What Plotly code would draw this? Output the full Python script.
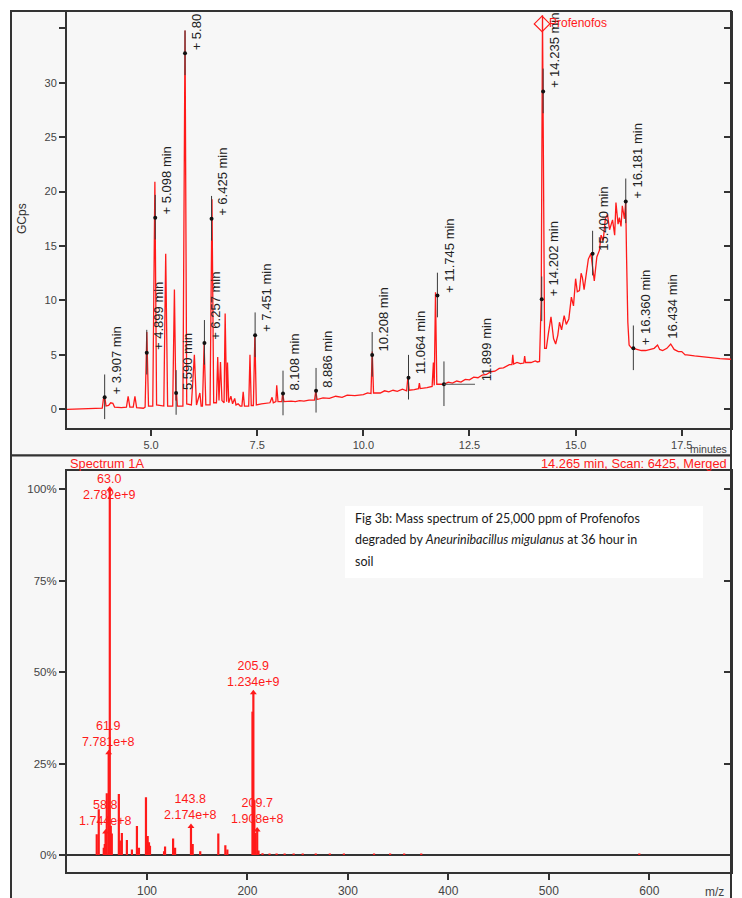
import plotly.graph_objects as go

W, H = 742, 898

# ---------------- GC chromatogram (total ion current) ----------------
rt_min = [3.02, 3.5, 3.85, 3.88, 3.91, 3.94, 4.0, 4.05, 4.1, 4.14, 4.3, 4.42, 4.46, 4.5,
          4.58, 4.62, 4.66, 4.82, 4.86, 4.90, 4.94, 5.04, 5.09, 5.13, 5.30, 5.345, 5.39,
          5.51, 5.55, 5.585, 5.60, 5.62, 5.75, 5.80, 5.84, 5.95, 6.02, 6.07, 6.12, 6.15,
          6.18, 6.21, 6.25, 6.29, 6.39, 6.435, 6.475, 6.54, 6.57, 6.60, 6.635, 6.67, 6.72,
          6.745, 6.78, 6.80, 6.83, 6.88, 6.92, 6.97, 7.0, 7.05, 7.1, 7.14, 7.17, 7.2, 7.3,
          7.33, 7.36, 7.41, 7.445, 7.48, 7.6, 7.8, 7.85, 7.88, 7.94, 7.96, 7.99, 8.08, 8.10,
          8.13, 8.3, 8.4, 8.5, 8.6, 8.72, 8.85, 8.88, 8.91, 9.05, 9.2, 9.35, 9.5, 9.62, 9.8,
          10.0, 10.1, 10.18, 10.21, 10.24, 10.4, 10.5, 10.6, 10.7, 10.8, 10.92, 11.02, 11.05,
          11.08, 11.2, 11.3, 11.32, 11.34, 11.5, 11.62, 11.65, 11.67, 11.70, 11.73, 11.9,
          12.0, 12.1, 12.2, 12.3, 12.4, 12.5, 12.6, 12.7, 12.8, 12.9, 13.0, 13.1, 13.2,
          13.3, 13.44, 13.5, 13.52, 13.54, 13.62, 13.7, 13.78, 13.8, 13.82, 13.95, 14.05,
          14.1, 14.15, 14.19, 14.22, 14.27, 14.31, 14.36, 14.42, 14.48, 14.53, 14.58,
          14.62, 14.67, 14.73, 14.78, 14.84, 14.9, 14.95, 15.0, 15.04, 15.09, 15.13, 15.16,
          15.2, 15.26, 15.3, 15.36, 15.4, 15.44, 15.5, 15.56, 15.6, 15.65, 15.7, 15.75,
          15.8, 15.87, 15.92, 15.95, 16.0, 16.03, 16.07, 16.1, 16.15, 16.18, 16.2, 16.23,
          16.26, 16.3, 16.36, 16.45, 16.55, 16.65, 16.75, 16.85, 16.93, 16.98, 17.05,
          17.15, 17.24, 17.32, 17.42, 17.5, 17.58, 17.62, 17.8, 18.0, 18.2, 18.4, 18.66]
gcps = [0.0, 0.05, 0.1, 1.0, 1.1, 0.3, 0.35, 0.6, 0.55, 0.2, 0.15, 0.2, 1.2, 0.2,
        0.2, 1.2, 0.15, 0.1, 0.2, 7.1, 0.3, 0.3, 20.9, 0.4, 0.3, 14.3, 0.3,
        0.3, 11.0, 0.8, 1.5, 0.3, 0.3, 34.8, 0.5, 0.4, 5.0, 0.4, 1.0, 1.5,
        0.3, 0.3, 6.0, 0.4, 0.4, 19.3, 0.6, 0.6, 4.8, 0.8, 4.35, 0.8, 0.6,
        8.8, 0.7, 4.3, 0.6, 1.2, 0.5, 1.0, 0.4, 0.5, 0.3, 0.3, 1.6, 0.3, 0.3,
        5.0, 0.35, 0.35, 6.8, 0.4, 0.5, 0.6, 1.1, 0.6, 0.7, 2.2, 0.7, 0.7, 1.45,
        0.7, 0.75, 0.7, 0.8, 0.75, 0.85, 0.85, 1.7, 0.9, 1.05, 1.0, 1.2, 1.1, 1.3, 1.25,
        1.35, 1.5, 1.45, 5.3, 1.5, 1.5, 1.7, 1.6, 1.75, 1.65, 1.85, 1.7, 3.0,
        1.75, 1.8, 1.9, 2.4, 1.9, 2.0, 2.1, 4.3, 2.2, 10.75, 2.3, 2.3,
        2.5, 2.4, 2.6, 2.5, 2.75, 2.7, 2.95, 2.9, 3.15, 3.2, 3.45, 3.5, 3.75,
        3.8, 4.1, 4.1, 5.0, 4.15, 4.3, 4.2, 4.25, 4.9, 4.3, 4.3, 4.45,
        4.35, 4.4, 10.1, 36.2, 5.6, 5.6, 7.0, 8.5, 6.5, 6.0, 6.8,
        8.0, 7.3, 8.6, 7.8, 8.3, 10.3, 9.5, 12.0, 10.8, 10.9, 12.5, 12.1,
        11.0, 12.7, 13.8, 14.3, 13.0, 11.8, 14.0, 14.6, 16.0, 15.5, 17.5, 17.9,
        16.5, 17.4, 16.0, 19.0, 17.0, 17.6, 16.8, 18.7, 17.5, 19.1, 14.0, 8.0,
        5.9, 5.7, 5.6, 5.5, 5.4, 5.4, 5.5, 5.6, 5.9, 5.5, 5.4,
        5.6, 6.0, 5.5, 5.3, 5.3, 5.0, 5.0, 4.9, 4.8, 4.7, 4.65, 4.6]

# integrated peak markers (retention time, marker height)
mark_rt = [3.907, 4.899, 5.098, 5.590, 5.80, 6.257, 6.425, 7.451, 8.108, 8.886,
           10.208, 11.064, 11.745, 11.899, 14.202, 14.235, 15.400, 16.181, 16.360]
mark_val = [1.1, 5.2, 17.6, 1.5, 32.7, 6.1, 17.5, 6.8, 1.45, 1.7,
            5.0, 2.9, 10.45, 2.3, 10.1, 29.2, 14.3, 19.1, 5.6]

# peak labels (anchor retention time, anchor height, text)
lab_rt = [3.907, 4.899, 5.098, 5.590, 5.80, 6.257, 6.425, 7.451, 8.108, 8.886,
          10.208, 11.064, 11.745, 12.63, 14.202, 14.235, 15.400, 16.181, 16.360, 17.02]
lab_val = [1.1, 5.2, 17.6, 1.5, 32.7, 6.1, 17.5, 6.8, 1.45, 1.7,
           5.0, 2.9, 10.45, 2.3, 10.1, 29.2, 14.3, 19.1, 5.6, 6.2]
lab_text = ["+ 3.907 min", "+ 4.899 min", "+ 5.098 min", "5.590 min", "+ 5.80",
            "+ 6.257 min", "+ 6.425 min", "+ 7.451 min", "8.108 min", "8.886 min",
            "10.208 min", "11.064 min", "+ 11.745 min", "11.899 min", "+ 14.202 min",
            "+ 14.235 min", "15.400 min", "+ 16.181 min", "+ 16.360 min", "16.434 min"]

rt_ticks = [5.0, 7.5, 10.0, 12.5, 15.0, 17.5]
rt_ticktext = ["5.0", "7.5", "10.0", "12.5", "15.0", "17.5"]
gc_ticks = [0, 5, 10, 15, 20, 25, 30, 35]
gc_ticktext = ["0", "5", "10", "15", "20", "25", "30", ""]

# ---------------- mass spectrum at 14.265 min ----------------
base_counts = 2.782e9
mz = [50.0, 52.0, 57.0, 58.0, 60.0, 64.0, 65.0, 72.0, 73.0, 75.0, 80.0, 85.0,
      90.0, 92.0, 99.0, 100.7, 102.0, 103.0, 117.0, 118.0, 126.0, 128.0, 145.5,
      153.0, 171.0, 178.0, 180.0, 205.0, 206.9, 207.9, 211.0, 215.0, 222.0, 229.0,
      237.0, 246.0, 255.0, 268.0, 282.0, 296.0, 326.0, 342.0, 356.0, 373.0, 590.0]
rel_abund = [5.7, 12.5, 2.0, 3.0, 16.9, 8.0, 5.9, 16.7, 4.0, 6.0, 4.1, 1.5,
             7.9, 2.0, 15.8, 5.2, 3.5, 2.5, 1.0, 2.3, 4.5, 2.0, 3.0,
             1.0, 5.9, 2.7, 1.5, 39.2, 15.0, 6.0, 1.2, 0.5, 0.4, 0.4,
             0.4, 0.4, 0.4, 0.4, 0.4, 0.4, 0.4, 0.4, 0.4, 0.4, 0.4]

# labelled ions (m/z, absolute counts)
ion_mz = [58.8, 61.9, 63.0, 143.8, 205.9, 209.7]
ion_counts = [1.744e8, 7.781e8, 2.782e9, 2.174e8, 1.234e9, 1.908e8]
ion_counts_text = ["1.744e+8", "7.781e+8", "2.782e+9", "2.174e+8", "1.234e+9", "1.908e+8"]

mz_ticks = [100, 200, 300, 400, 500, 600]
pct_ticks = [0, 25, 50, 75, 100]
pct_ticktext = ["0%", "25%", "50%", "75%", "100%"]


def px_x(p):
    return p / W


def px_y(p):
    return 1 - p / H


RED = "#ff1a1a"
INK = "#333333"
FONT = "Liberation Sans, Arial, sans-serif"

fig = go.Figure()

# chromatogram trace
fig.add_trace(go.Scatter(x=rt_min, y=gcps, mode="lines",
                         line=dict(color=RED, width=1.3),
                         xaxis="x", yaxis="y", hoverinfo="skip", showlegend=False))

# peak marker ticks and dots
seg_x, seg_y = [], []
for t, v in zip(mark_rt, mark_val):
    seg_x += [t, t, None]
    seg_y += [v - 2.0, v + 2.1, None]
fig.add_trace(go.Scatter(x=seg_x, y=seg_y, mode="lines",
                         line=dict(color="#3a3a3a", width=1),
                         xaxis="x", yaxis="y", hoverinfo="skip", showlegend=False))
fig.add_trace(go.Scatter(x=mark_rt, y=mark_val, mode="markers",
                         marker=dict(color="#111111", size=4),
                         xaxis="x", yaxis="y", hoverinfo="skip", showlegend=False))
# leader for the displaced 11.899 label
fig.add_trace(go.Scatter(x=[mark_rt[13], lab_rt[13]], y=[mark_val[13], lab_val[13]],
                         mode="lines", line=dict(color="#555555", width=1),
                         xaxis="x", yaxis="y", hoverinfo="skip", showlegend=False))
# compound flag for Profenofos
fig.add_trace(go.Scatter(x=[14.21], y=[35.4], mode="markers",
                         marker=dict(symbol="diamond-open", color=RED, size=12,
                                     line=dict(width=1.2, color=RED)),
                         xaxis="x", yaxis="y", hoverinfo="skip", showlegend=False))

# mass spectrum sticks
st_x, st_y = [], []
for m, a in zip(mz, rel_abund):
    st_x += [m, m, None]
    st_y += [0, a, None]
ion_pct = [c / base_counts * 100 for c in ion_counts]
for m, a in zip(ion_mz, ion_pct):
    st_x += [m, m, None]
    st_y += [0, a, None]
fig.add_trace(go.Scatter(x=st_x, y=st_y, mode="lines",
                         line=dict(color=RED, width=2.2),
                         xaxis="x2", yaxis="y2", hoverinfo="skip", showlegend=False))
fig.add_trace(go.Scatter(x=ion_mz, y=ion_pct, mode="markers",
                         marker=dict(symbol="triangle-up", color=RED, size=6),
                         xaxis="x2", yaxis="y2", hoverinfo="skip", showlegend=False))

# empty traces so the right-hand tick axes are drawn
fig.add_trace(go.Scatter(x=[None], y=[None], xaxis="x", yaxis="y3", showlegend=False))
fig.add_trace(go.Scatter(x=[None], y=[None], xaxis="x2", yaxis="y4", showlegend=False))

dom_x = [px_x(67), px_x(731)]
gc_range = [-1.69, 36.59]
pct_range = [-4.73, 105.09]

axis_common = dict(showline=True, linecolor=INK, linewidth=2, ticks="outside",
                   ticklen=6, tickwidth=2, tickcolor=INK, showgrid=False,
                   zeroline=False, tickfont=dict(family=FONT, size=11, color="#444"))

annotations = []
for t, v, s in zip(lab_rt, lab_val, lab_text):
    annotations.append(dict(x=t, y=v, xref="x", yref="y", text=s, showarrow=False,
                            textangle=-90, xanchor="left", yanchor="bottom",
                            xshift=2, yshift=1,
                            font=dict(family=FONT, size=13, color="#222")))
annotations.append(dict(x=14.33, y=35.5, xref="x", yref="y", text="Profenofos",
                        showarrow=False, xanchor="left", yanchor="middle",
                        font=dict(family=FONT, size=12, color=RED)))

for m, a, c in zip(ion_mz, ion_pct, ion_counts_text):
    txt = f"{m:.1f}<br>{c}"
    if a > 90:
        # base peak: label is tucked under the top edge of the plot
        annotations.append(dict(x=m, y=104.9, xref="x2", yref="y2", text=txt,
                                showarrow=False, xanchor="center", yanchor="top",
                                yshift=1, font=dict(family=FONT, size=12.5, color=RED)))
    else:
        annotations.append(dict(x=m, y=a, xref="x2", yref="y2", text=txt,
                                showarrow=False, xanchor="center", yanchor="bottom",
                                yshift=2, font=dict(family=FONT, size=12.5, color=RED)))

annotations += [
    dict(x=px_x(22), y=px_y(219), xref="paper", yref="paper", text="GCps",
         textangle=-90, xanchor="center", yanchor="middle", showarrow=False,
         font=dict(family=FONT, size=12, color="#333")),
    dict(x=px_x(729), y=px_y(448.5), xref="paper", yref="paper", text="minutes",
         xanchor="right", yanchor="middle", showarrow=False,
         font=dict(family=FONT, size=10.5, color="#444")),
    dict(x=px_x(726), y=px_y(892), xref="paper", yref="paper", text="m/z",
         xanchor="right", yanchor="middle", showarrow=False,
         font=dict(family=FONT, size=12, color="#444")),
    dict(x=px_x(68), y=px_y(463.5), xref="paper", yref="paper", text="Spectrum 1A",
         xanchor="left", yanchor="middle", showarrow=False,
         font=dict(family=FONT, size=12.8, color=RED)),
    dict(x=px_x(729), y=px_y(463.5), xref="paper", yref="paper",
         text="14.265 min, Scan: 6425, Merged",
         xanchor="right", yanchor="middle", showarrow=False,
         font=dict(family=FONT, size=12.8, color=RED)),
]
caption = ["Fig 3b: Mass spectrum of 25,000 ppm of Profenofos",
           "degraded by <i>Aneurinibacillus migulanus</i> at 36 hour in",
           "soil"]
for i, line in enumerate(caption):
    annotations.append(dict(x=px_x(353), y=px_y(518 + 21.8 * i), xref="paper", yref="paper",
                            text=line, xanchor="left", yanchor="middle", showarrow=False,
                            font=dict(family="Lato, sans-serif", size=12.5, color="#1a1a1a")))

shapes = [
    dict(type="rect", xref="paper", yref="paper", x0=px_x(11), x1=px_x(731),
         y0=px_y(455.5), y1=px_y(11), fillcolor="#f7f7f7",
         line=dict(color=INK, width=2), layer="below"),
    dict(type="rect", xref="paper", yref="paper", x0=px_x(11), x1=px_x(731),
         y0=px_y(910), y1=px_y(455.5), fillcolor="#f7f7f7",
         line=dict(color=INK, width=2), layer="below"),
    dict(type="rect", xref="paper", yref="paper", x0=px_x(345), x1=px_x(703),
         y0=px_y(578), y1=px_y(506), fillcolor="#ffffff",
         line=dict(width=0), layer="above"),
]

fig.update_layout(
    width=W, height=H, margin=dict(l=0, r=0, t=0, b=0),
    paper_bgcolor="#ffffff", plot_bgcolor="#f7f7f7", showlegend=False,
    xaxis=dict(domain=dom_x, anchor="y", range=[3.02, 18.66], tickvals=rt_ticks,
               ticktext=rt_ticktext, **axis_common),
    yaxis=dict(domain=[px_y(427.7), px_y(11)], anchor="x", range=gc_range,
               tickvals=gc_ticks, ticktext=gc_ticktext, **axis_common),
    yaxis3=dict(overlaying="y", anchor="x", side="right", range=gc_range,
                tickvals=gc_ticks, showticklabels=False, showline=True, linecolor=INK,
                linewidth=2, ticks="inside", ticklen=7, tickwidth=2, tickcolor=INK,
                showgrid=False, zeroline=False),
    xaxis2=dict(domain=dom_x, anchor="y2", range=[20.4, 681.3], tickvals=mz_ticks,
                mirror=True, **{**axis_common, "tickfont": dict(family=FONT, size=12, color="#444")}),
    yaxis2=dict(domain=[px_y(872.3), px_y(470.7)], anchor="x2", range=pct_range,
                tickvals=pct_ticks, ticktext=pct_ticktext,
                **{**axis_common, "zeroline": True, "zerolinecolor": INK, "zerolinewidth": 2,
                   "tickfont": dict(family=FONT, size=11.5, color="#444")}),
    yaxis4=dict(overlaying="y2", anchor="x2", side="right", range=pct_range,
                tickvals=pct_ticks, showticklabels=False, showline=True, linecolor=INK,
                linewidth=2, ticks="inside", ticklen=7, tickwidth=2, tickcolor=INK,
                showgrid=False, zeroline=False),
    annotations=annotations, shapes=shapes,
)

fig.write_html("out.html")
